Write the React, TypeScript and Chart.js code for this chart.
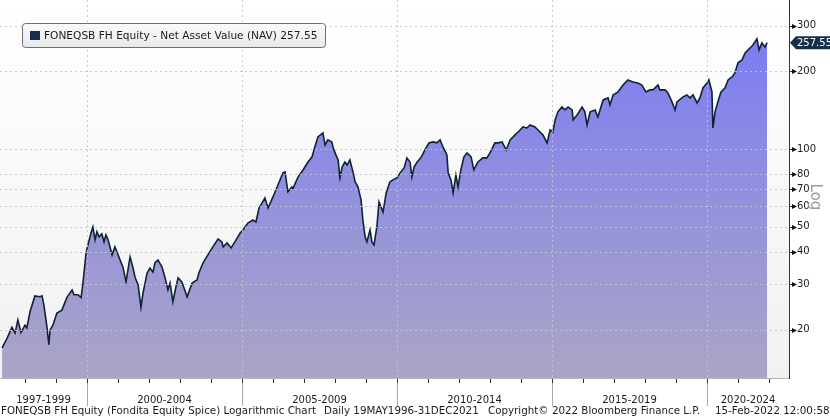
import React, { useEffect, useRef } from "react";
import { Chart, registerables } from "chart.js";

Chart.register(...registerables);

// ---- data (decimal year, NAV) ----
const years = [
  1997.26, 1997.42, 1997.58, 1997.68, 1997.77, 1997.87, 1998.0, 1998.06, 1998.16, 1998.32,
  1998.48, 1998.55, 1998.61, 1998.71, 1998.77, 1998.81, 1998.9, 1999.03, 1999.19, 1999.35,
  1999.52, 1999.58, 1999.71, 1999.81, 1999.87, 1999.97, 2000.03, 2000.13, 2000.19, 2000.26,
  2000.32, 2000.39, 2000.48, 2000.55, 2000.61, 2000.68, 2000.81, 2000.9, 2001.03, 2001.16,
  2001.26, 2001.32, 2001.39, 2001.48, 2001.55, 2001.65, 2001.74, 2001.81, 2001.94, 2002.03,
  2002.13, 2002.19, 2002.29, 2002.42, 2002.52, 2002.61, 2002.68, 2002.77, 2002.87, 2002.94,
  2003.06, 2003.23, 2003.39, 2003.55, 2003.61, 2003.74, 2003.9, 2004.06, 2004.23, 2004.35,
  2004.39, 2004.52, 2004.65, 2004.77, 2004.94, 2005.03, 2005.19, 2005.35, 2005.45, 2005.55,
  2005.74, 2005.84, 2006.0, 2006.16, 2006.32, 2006.39, 2006.48, 2006.61, 2006.65, 2006.81,
  2006.97, 2007.13, 2007.26, 2007.35, 2007.45, 2007.61, 2007.68, 2007.77, 2007.9, 2007.94,
  2008.03, 2008.1, 2008.16, 2008.23, 2008.32, 2008.39, 2008.48, 2008.58, 2008.65, 2008.74,
  2008.84, 2008.9, 2008.97, 2009.03, 2009.13, 2009.19, 2009.26, 2009.35, 2009.42, 2009.55,
  2009.65, 2009.77, 2009.87, 2010.0, 2010.1, 2010.23, 2010.32, 2010.42, 2010.48, 2010.55,
  2010.65, 2010.77, 2010.9, 2011.03, 2011.16, 2011.29, 2011.39, 2011.48, 2011.61, 2011.65,
  2011.74, 2011.81, 2011.9, 2011.97, 2012.06, 2012.16, 2012.26, 2012.39, 2012.48, 2012.61,
  2012.77, 2012.9, 2013.0, 2013.16, 2013.26, 2013.39, 2013.52, 2013.65, 2013.81, 2013.94,
  2014.06, 2014.19, 2014.29, 2014.45, 2014.61, 2014.71, 2014.84, 2014.94, 2015.03, 2015.1,
  2015.19, 2015.32, 2015.42, 2015.52, 2015.65, 2015.68, 2015.81, 2015.97, 2016.06, 2016.13,
  2016.23, 2016.39, 2016.48, 2016.65, 2016.81, 2016.87, 2016.97, 2017.13, 2017.29, 2017.45,
  2017.61, 2017.77, 2017.9, 2018.03, 2018.16, 2018.26, 2018.42, 2018.48, 2018.65, 2018.74,
  2018.87, 2018.97, 2019.03, 2019.23, 2019.35, 2019.45, 2019.55, 2019.68, 2019.77, 2019.87,
  2020.0, 2020.06, 2020.16, 2020.19, 2020.26, 2020.35, 2020.45, 2020.58, 2020.68, 2020.81,
  2020.9, 2021.0, 2021.13, 2021.23, 2021.39, 2021.48, 2021.61, 2021.68, 2021.77, 2021.87,
  2021.94,
];

const nav = [
  17.0, 18.5, 20.4, 19.4, 21.8, 19.5, 20.8, 20.3, 23.4, 27.0,
  26.8, 27.0, 24.9, 20.4, 17.5, 19.9, 20.8, 23.2, 23.8, 26.6,
  28.5, 27.3, 27.3, 26.6, 30.3, 39.6, 42.5, 47.3, 49.9, 44.5,
  47.8, 45.7, 46.9, 43.7, 46.5, 44.5, 38.9, 41.8, 38.2, 34.9,
  30.6, 34.0, 38.2, 34.9, 31.9, 29.8, 24.4, 27.8, 33.1, 34.6,
  33.4, 36.2, 37.2, 34.9, 31.7, 28.5, 30.3, 25.6, 29.3, 31.7,
  30.6, 26.8, 30.3, 31.1, 33.1, 36.2, 38.9, 41.8, 44.9, 43.7,
  41.8, 43.3, 41.4, 43.7, 47.3, 48.6, 51.7, 53.1, 52.2, 59.1,
  64.6, 59.1, 65.2, 72.5, 80.8, 81.5, 68.2, 71.3, 70.6, 78.0,
  82.9, 89.0, 93.2, 101.8, 111.3, 115.3, 103.6, 108.4, 106.4, 100.9,
  94.8, 90.7, 77.3, 85.1, 89.0, 86.6, 90.7, 81.5, 74.5, 71.3,
  63.5, 53.1, 45.7, 43.7, 48.6, 43.7, 42.5, 49.9, 62.4, 57.0,
  67.6, 74.5, 75.9, 77.3, 80.8, 84.4, 92.3, 89.0, 78.0, 85.1,
  89.0, 92.3, 99.1, 105.5, 106.4, 105.5, 108.4, 101.8, 94.8, 80.8,
  75.9, 67.6, 79.3, 71.3, 82.9, 93.2, 96.5, 93.2, 82.9, 89.0,
  92.3, 92.3, 96.5, 105.5, 105.5, 106.4, 99.1, 108.4, 113.3, 117.3,
  121.6, 120.5, 123.7, 121.6, 116.3, 113.3, 105.5, 118.4, 116.3, 129.5,
  139.1, 145.3, 141.5, 145.3, 141.5, 129.5, 135.3, 145.3, 139.1, 123.7,
  139.1, 141.5, 133.0, 154.7, 157.5, 147.9, 161.7, 166.1, 176.7, 184.9,
  181.6, 179.9, 176.7, 166.1, 169.1, 169.1, 176.7, 169.1, 169.1, 164.7,
  152.0, 141.5, 152.0, 158.9, 161.7, 157.5, 161.7, 150.6, 157.5, 172.1,
  179.9, 184.9, 166.1, 120.5, 139.1, 152.0, 166.1, 172.1, 184.9, 189.9,
  196.7, 215.2, 221.0, 235.2, 245.8, 252.4, 266.5, 241.5, 257.0, 248.0,
  257.55,
];

const yTicks = [20, 30, 40, 50, 60, 70, 80, 100, 200, 300];
const periodLabels = ["1997-1999", "2000-2004", "2005-2009", "2010-2014", "2015-2019", "2020-2024"];
const periodBounds = [2000, 2005, 2010, 2015, 2020];
const yearTicks = [1998, 1999, 2000, 2001, 2002, 2003, 2004, 2005, 2006, 2007, 2008, 2009, 2010, 2011, 2012, 2013, 2014, 2015, 2016, 2017, 2018, 2019, 2020, 2021, 2022];
const xMin = 1997.194;
const xMax = 2022.645;
const yMin = 13.0;
const yMax = 370;
const lastValue = 257.55;
const legendText = "FONEQSB FH Equity - Net Asset Value (NAV) 257.55";
const footerParts = [
  "FONEQSB FH Equity (Fondita Equity Spice) Logarithmic Chart",
  "Daily 19MAY1996-31DEC2021",
  "Copyright\u00A9 2022 Bloomberg Finance L.P.",
  "15-Feb-2022 12:00:58",
];
const footerX = [1, 324, 488, 715];

const FONT = "'DejaVu Sans', Verdana, sans-serif";

const edges = [xMin, ...periodBounds, xMax];
const periodMids = periodLabels.map((_, i) => (edges[i] + edges[i + 1]) / 2);

const bgPlugin = {
  id: "bg",
  beforeDraw(chart: any) {
    const { ctx, chartArea: a, width, height } = chart;
    ctx.save();
    ctx.fillStyle = "#ffffff";
    ctx.fillRect(0, 0, width, height);
    const g = ctx.createLinearGradient(0, 0, 0, a.bottom);
    g.addColorStop(0, "#ffffff");
    g.addColorStop(1, "#f1f1f1");
    ctx.fillStyle = g;
    ctx.fillRect(0, 0, a.right, a.bottom);
    ctx.restore();
  },
};

const overlayPlugin = {
  id: "overlay",
  afterDatasetsDraw(chart: any) {
    const { ctx, chartArea: a, scales } = chart;
    const xs = scales.x;
    const ys = scales.y;
    ctx.save();
    ctx.strokeStyle = "rgba(195,195,210,0.9)";
    ctx.lineWidth = 1;
    ctx.setLineDash([2, 3]);
    yTicks.forEach((v) => {
      const y = Math.round(ys.getPixelForValue(v)) + 0.5;
      ctx.beginPath();
      ctx.moveTo(a.left, y);
      ctx.lineTo(a.right, y);
      ctx.stroke();
    });
    periodBounds.forEach((t) => {
      const x = Math.round(xs.getPixelForValue(t)) + 0.5;
      ctx.beginPath();
      ctx.moveTo(x, 0);
      ctx.lineTo(x, a.bottom);
      ctx.stroke();
    });
    ctx.setLineDash([]);
    ctx.restore();
  },
  afterDraw(chart: any) {
    const { ctx, chartArea: a, scales } = chart;
    const xs = scales.x;
    const ys = scales.y;
    ctx.save();
    ctx.strokeStyle = "#b8b8b8";
    ctx.lineWidth = 1;
    ctx.beginPath();
    ctx.moveTo(0, a.bottom + 0.5);
    ctx.lineTo(a.right, a.bottom + 0.5);
    ctx.stroke();
    ctx.strokeStyle = "#a8a8a8";
    periodBounds.forEach((t) => {
      const x = Math.round(xs.getPixelForValue(t)) + 0.5;
      ctx.beginPath();
      ctx.moveTo(x, a.bottom);
      ctx.lineTo(x, a.bottom + 28);
      ctx.stroke();
    });
    ctx.strokeStyle = "#333";
    yearTicks.forEach((t) => {
      const x = Math.round(xs.getPixelForValue(t)) + 0.5;
      if (x > a.right) return;
      ctx.beginPath();
      ctx.moveTo(x, a.bottom + 1);
      ctx.lineTo(x, a.bottom + 5);
      ctx.stroke();
    });
    ctx.strokeStyle = "#333";
    ctx.beginPath();
    ctx.moveTo(a.right + 0.5, 0);
    ctx.lineTo(a.right + 0.5, a.bottom + 1);
    ctx.stroke();
    ctx.fillStyle = "#111";
    yTicks.forEach((v) => {
      const y = Math.round(ys.getPixelForValue(v)) + 0.5;
      ctx.beginPath();
      ctx.moveTo(a.right, y);
      ctx.lineTo(a.right + 4, y);
      ctx.stroke();
      ctx.beginPath();
      ctx.moveTo(a.right + 3, y - 2.5);
      ctx.lineTo(a.right + 8, y);
      ctx.lineTo(a.right + 3, y + 2.5);
      ctx.closePath();
      ctx.fill();
    });
    const ly = ys.getPixelForValue(lastValue);
    ctx.fillStyle = "#142f4c";
    ctx.beginPath();
    ctx.moveTo(a.right + 1, ly);
    ctx.lineTo(a.right + 7, ly - 6.5);
    ctx.lineTo(830, ly - 6.5);
    ctx.lineTo(830, ly + 6.5);
    ctx.lineTo(a.right + 7, ly + 6.5);
    ctx.closePath();
    ctx.fill();
    ctx.fillStyle = "#ffffff";
    ctx.font = `10px ${FONT}`;
    ctx.textBaseline = "middle";
    ctx.textAlign = "left";
    ctx.fillText(lastValue.toFixed(2), a.right + 8, ly + 0.5);
    ctx.save();
    ctx.translate(815, 197);
    ctx.rotate(Math.PI / 2);
    ctx.fillStyle = "#9c9c9c";
    ctx.font = `15px ${FONT}`;
    ctx.textAlign = "center";
    ctx.textBaseline = "middle";
    ctx.fillText("Log", 0, 0);
    ctx.restore();
    const bx = 22.5, by = 23.5, bw = 303, bh = 24;
    const lg = ctx.createLinearGradient(0, by, 0, by + bh);
    lg.addColorStop(0, "#fbfbfb");
    lg.addColorStop(1, "#e9e9e9");
    ctx.fillStyle = lg;
    ctx.strokeStyle = "#6e6e6e";
    ctx.beginPath();
    ctx.roundRect(bx, by, bw, bh, 3);
    ctx.fill();
    ctx.stroke();
    ctx.fillStyle = "#142f4c";
    ctx.fillRect(30, 31, 10, 9);
    ctx.fillStyle = "#1a1a1a";
    ctx.font = `10.6px ${FONT}`;
    ctx.textAlign = "left";
    ctx.textBaseline = "middle";
    ctx.fillText(legendText, 44, 36);
    ctx.fillStyle = "#1a1a1a";
    ctx.font = `10.3px ${FONT}`;
    ctx.textBaseline = "middle";
    footerParts.forEach((s, i) => ctx.fillText(s, footerX[i], 411.5));
    ctx.restore();
  },
};

export default function App() {
  const ref = useRef<HTMLCanvasElement>(null);
  useEffect(() => {
    const canvas = ref.current;
    if (!canvas) return;
    const points = years.map((t, i) => ({ x: t, y: nav[i] }));
    const chart = new Chart(canvas, {
      type: "line",
      data: {
        datasets: [
          {
            data: points,
            borderColor: "#0f2238",
            borderWidth: 1.6,
            pointRadius: 0,
            tension: 0,
            fill: "start",
            backgroundColor: (c: any) => {
              const ch = c.chart;
              const a = ch.chartArea;
              if (!a) return "#9090e0";
              const g = ch.ctx.createLinearGradient(0, a.top, 0, a.bottom);
              g.addColorStop(0, "#7777f7");
              g.addColorStop(0.5, "#9290de");
              g.addColorStop(1, "#aaa5c5");
              return g;
            },
          },
        ],
      },
      options: {
        animation: false,
        responsive: false,
        maintainAspectRatio: false,
        layout: { padding: { top: 2, left: 0, right: 0, bottom: 0 } },
        plugins: { legend: { display: false }, tooltip: { enabled: false } },
        scales: {
          x: {
            type: "linear",
            position: "bottom",
            min: xMin,
            max: xMax,
            grid: { display: false, drawTicks: false },
            border: { display: false },
            afterBuildTicks: (s: any) => {
              s.ticks = periodMids.map((v) => ({ value: v }));
            },
            ticks: {
              autoSkip: false,
              maxRotation: 0,
              minRotation: 0,
              padding: 16,
              color: "#1a1a1a",
              font: { family: FONT, size: 10 },
              callback: (_v: any, i: number) => periodLabels[i],
            },
            afterFit: (s: any) => {
              s.height = 39;
              s.paddingLeft = 0;
              s.paddingRight = 0;
            },
          },
          y: {
            type: "logarithmic",
            position: "right",
            min: yMin,
            max: yMax,
            grid: { display: false, drawTicks: false },
            border: { display: false },
            afterBuildTicks: (s: any) => {
              s.ticks = yTicks.map((v) => ({ value: v }));
            },
            ticks: {
              padding: 8,
              color: "#1a1a1a",
              font: { family: FONT, size: 10 },
              callback: (v: any) => String(v),
            },
            afterFit: (s: any) => {
              s.width = 41;
              s.paddingTop = 0;
              s.paddingBottom = 0;
            },
          },
        },
      } as any,
      plugins: [bgPlugin, overlayPlugin],
    });
    return () => chart.destroy();
  }, []);
  return (
    <div style={{ position: "absolute", left: 0, top: 0, width: 830, height: 417 }}>
      <canvas ref={ref} width={830} height={417} style={{ display: "block", width: 830, height: 417 }} />
    </div>
  );
}
